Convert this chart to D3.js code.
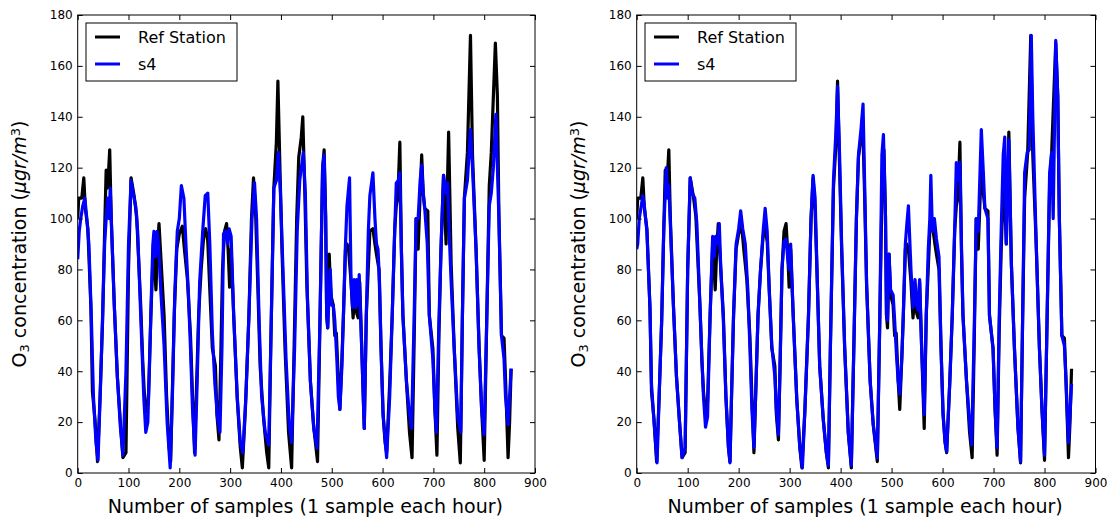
<!DOCTYPE html>
<meta charset="utf-8">
<script src="https://cdn.jsdelivr.net/npm/d3@7"></script>
<style>
body { margin: 0; background: #fff; }
text { font-family: "DejaVu Sans", sans-serif; fill: #000; }
.tick text { font-size: 12px; }
.tick line { stroke: #000; }
path.series { fill: none; stroke-width: 3.2px; stroke-linejoin: round; }
</style>
<body>
<script>

// tick labels
var xTicks = [0, 100, 200, 300, 400, 500, 600, 700, 800, 900];
var yTicks = [0, 20, 40, 60, 80, 100, 120, 140, 160, 180];
var seriesNames = ["Ref Station", "s4"];

// [sample, O3]
var refStation = [
  [0,100],[2,108],[8,108],[12,116],[15,104],[20,96],[26,65],[29,32],[34,21],[39,4.5],
  [44,30],[49,60],[53,95],[56,119],[59,112],[63,127],[66,100],[72,66],[78,38],[84,20],[89,6],[95,8],
  [100,80],[105,116],[111,109],[116,101],[124,66],[128,44],[131,32],[135,24],[139,28],
  [144,62],[149,90],[154,72],[157,88],[160,98],[165,80],[170,62],[175,30],[180,10],[183,4.5],
  [186,30],[190,62],[195,88],[200,94],[206,97],[210,88],[216,76],[222,54],[226,30],[230,8],
  [234,35],[238,62],[243,80],[248,93],[252,96],[256,91],[260,72],[265,49],[271,42],[274,23],[278,13],
  [281,40],[285,80],[289,95],[293,98],[296,88],[299,73],[302,88],[307,62],[314,29],[320,10],[324,2],
  [330,25],[337,62],[342,100],[346,116],[350,103],[355,70],[359,42],[366,21],[372,8],[376,2],
  [380,50],[386,112],[391,130],[394,154],[398,120],[402,88],[408,49],[415,16],[421,2],
  [426,50],[431,100],[435,124],[440,132],[443,140],[447,110],[451,74],[458,36],[464,19],[472,4.5],
  [477,62],[482,120],[485,127],[488,101],[490,62],[492,57],[495,86],[498,70],[503,66],[506,54],[509,55],[513,36],[516,25],
  [520,45],[523,62],[527,88],[530,90],[533,88],[538,75],[542,61],[546,72],[549,63],[552,61],[555,75],[559,49],[564,17.5],
  [568,62],[575,95],[581,96],[585,90],[588,86],[593,80],[597,49],[601,23],[605,12],[608,8],
  [614,35],[619,62],[624,96],[627,105],[630,108],[634,130],[637,88],[640,62],[647,36],[653,16],[658,6],
  [662,50],[666,100],[670,88],[674,110],[677,125],[680,110],[683,104],[689,103],[692,62],[699,49],[703,25],[707,7],
  [711,55],[715,88],[720,117],[725,90],[730,134],[735,82],[741,49],[748,17.5],[753,4],
  [757,60],[761,108],[767,126],[773,172],[777,125],[784,88],[790,49],[795,25],[800,5],
  [805,60],[810,113],[814,126],[822,169],[826,148],[829,101],[834,54],[839,53],[842,37],[847,6],[850,20],[853,41]
];

var s4Raw = [
  [0,84],[3,95],[6,100],[10,105],[14,108],[18,100],[22,90],[27,60],[31,30],[36,12],[40,5],
  [45,35],[49,62],[53,90],[56,100],[59,108],[62,100],[64,112],[67,95],[72,66],[78,38],[84,18],[89,7],
  [95,40],[100,90],[105,115],[109,110],[114,105],[118,95],[124,62],[130,30],[134,16],[138,20],[141,40],
  [145,70],[148,90],[150,95],[153,85],[156,95],[159,90],[164,70],[170,50],[176,20],[182,2],
  [187,35],[191,70],[196,95],[200,100],[204,113],[209,108],[213,90],[218,70],[222,49],[226,25],[231,7],
  [235,35],[240,75],[246,95],[251,109],[256,110],[260,90],[265,55],[270,35],[275,22],[280,16],
  [284,50],[287,94],[291,95],[295,90],[298,96],[302,93],[307,62],[314,30],[320,12],[325,8],
  [331,30],[337,62],[343,100],[348,114],[352,100],[357,60],[362,30],[369,16],[376,11],
  [381,60],[386,112],[391,115],[395,126],[399,110],[404,80],[410,45],[416,20],[421,12],
  [427,50],[432,95],[437,115],[444,126],[448,110],[452,70],[458,36],[465,17],[471,9.7],
  [477,62],[482,120],[485,125],[488,100],[490,62],[492,57],[497,80],[500,66],[503,66],[506,60],[510,45],[513,30],[516,25],
  [520,42],[523,62],[527,90],[530,105],[535,116],[538,75],[541,65],[544,76],[547,65],[549,76],[552,66],[554,78],[559,49],[564,17.5],
  [568,62],[572,95],[575,109],[579,115],[581,118],[585,100],[588,90],[591,88],[594,75],[597,49],[601,23],[608,6],
  [614,30],[619,62],[624,96],[627,114],[631,115],[634,118],[637,88],[640,62],[647,36],[652,25],[657,17.5],
  [662,60],[666,100],[670,100],[674,115],[677,121],[680,110],[683,104],[688,90],[692,62],[699,45],[703,25],[706,16],
  [711,60],[715,88],[720,117],[725,110],[728,114],[731,95],[735,75],[741,49],[748,22],[754,16],
  [757,60],[761,108],[767,115],[773,135],[777,120],[784,88],[790,49],[795,25],[800,15],
  [805,60],[810,105],[814,110],[818,120],[823,141],[826,120],[829,100],[834,54],[839,45],[842,30],[847,19],[853,41]
];

var s4Calibrated = [
  [0,88],[2,90],[5,100],[9,105],[12,109],[15,105],[20,95],[26,65],[29,35],[34,20],[40,4],
  [44,30],[49,60],[53,95],[56,110],[58,120],[61,108],[63,113],[66,98],[72,66],[78,38],[84,20],[89,6],[95,10],
  [100,80],[105,116],[109,110],[114,108],[118,98],[124,66],[128,44],[131,30],[135,18],[139,22],
  [144,62],[149,93],[152,85],[155,93],[158,90],[162,98],[165,80],[170,60],[175,30],[180,10],[183,4],
  [186,30],[190,62],[195,90],[200,96],[204,103],[208,96],[213,90],[218,72],[222,50],[226,25],[230,10],
  [234,35],[238,62],[243,80],[248,95],[252,104],[256,95],[260,72],[265,50],[271,38],[274,25],[278,15],
  [281,40],[285,80],[289,91],[293,92],[296,85],[299,80],[302,90],[307,62],[314,29],[320,10],[325,2],
  [330,25],[337,62],[342,100],[346,117],[350,108],[355,70],[359,42],[366,21],[372,8],[376,3],
  [380,50],[386,115],[391,135],[394,152],[398,125],[402,90],[408,49],[415,16],[421,3],
  [426,50],[431,100],[435,125],[440,135],[444,145],[447,115],[451,74],[458,36],[464,19],[472,6],
  [477,62],[481,125],[484,133],[488,101],[490,62],[492,60],[495,86],[498,72],[503,70],[506,60],[510,45],[513,36],[516,31],
  [520,45],[523,62],[527,90],[530,98],[533,105],[538,80],[542,65],[546,76],[549,66],[552,64],[555,76],[559,49],[564,23],
  [568,62],[572,88],[575,100],[577,117],[580,95],[584,100],[588,92],[593,85],[597,49],[601,23],[605,12],[608,8.4],
  [614,35],[619,62],[624,98],[627,122],[630,115],[634,122],[637,90],[640,62],[647,36],[653,20],[657,11],
  [662,55],[666,100],[670,95],[673,115],[676,135],[680,118],[683,104],[689,100],[692,62],[699,49],[703,25],[707,10],
  [711,60],[715,95],[719,125],[722,132],[725,90],[730,131],[735,82],[741,49],[748,17.5],[753,4.5],
  [757,60],[761,118],[766,126],[770,127],[774,172],[777,140],[784,88],[790,49],[795,25],[800,7],
  [805,60],[810,118],[814,126],[817,100],[822,170],[826,148],[829,101],[834,54],[839,50],[842,37],[847,12],[853,35]
];

var width = 1112,
    height = 521;

var plotTop = 15,
    plotBottom = 473;

var panels = [
  {id: "a", left: 77.7, right: 535, blue: s4Raw},
  {id: "b", left: 636.7, right: 1095.5, blue: s4Calibrated}
];

var svg = d3.select("body").append("svg")
    .attr("width", width)
    .attr("height", height);

panels.forEach(function(p) {

  var x = d3.scaleLinear().domain([0, 900]).range([p.left, p.right]);
  var y = d3.scaleLinear().domain([0, 180]).range([plotBottom, plotTop]);

  var g = svg.append("g");

  g.append("clipPath").attr("id", "clip-" + p.id)
    .append("rect")
      .attr("x", p.left).attr("y", plotTop)
      .attr("width", p.right - p.left).attr("height", plotBottom - plotTop);

  var line = d3.line()
      .x(function(d) { return x(d[0]); })
      .y(function(d) { return y(d[1]); });

  // black first, blue on top
  g.append("path")
      .attr("class", "series")
      .attr("clip-path", "url(#clip-" + p.id + ")")
      .style("stroke", "#000")
      .attr("d", line(refStation));

  g.append("path")
      .attr("class", "series")
      .attr("clip-path", "url(#clip-" + p.id + ")")
      .style("stroke", "#0000ff")
      .attr("d", line(p.blue));

  // axes, ticks pointing inward
  var bottomAxis = g.append("g")
      .attr("transform", "translate(0," + plotBottom + ")")
      .call(d3.axisBottom(x).tickValues(xTicks).tickSize(-5).tickSizeOuter(0).tickPadding(5));
  var topAxis = g.append("g")
      .attr("transform", "translate(0," + plotTop + ")")
      .call(d3.axisTop(x).tickValues(xTicks).tickSize(-5).tickSizeOuter(0).tickFormat(""));
  var leftAxis = g.append("g")
      .attr("transform", "translate(" + p.left + ",0)")
      .call(d3.axisLeft(y).tickValues(yTicks).tickSize(-5).tickSizeOuter(0).tickPadding(5));
  var rightAxis = g.append("g")
      .attr("transform", "translate(" + p.right + ",0)")
      .call(d3.axisRight(y).tickValues(yTicks).tickSize(-5).tickSizeOuter(0).tickFormat(""));

  [bottomAxis, topAxis, leftAxis, rightAxis].forEach(function(a) {
    a.select(".domain").remove();
    a.selectAll("text").attr("font-family", null).attr("font-size", null).style("fill", "#000");
  });

  g.append("rect")
      .attr("x", p.left).attr("y", plotTop)
      .attr("width", p.right - p.left).attr("height", plotBottom - plotTop)
      .style("fill", "none").style("stroke", "#000").style("stroke-width", 1);

  // legend
  var lg = g.append("g").attr("transform", "translate(" + (p.left + 8.3) + ",23)");
  lg.append("rect")
      .attr("width", 151).attr("height", 58)
      .style("fill", "#fff").style("stroke", "#000").style("stroke-width", 1);
  seriesNames.forEach(function(name, i) {
    lg.append("line")
        .attr("x1", 9).attr("x2", 34)
        .attr("y1", 14 + i * 27).attr("y2", 14 + i * 27)
        .style("stroke", i == 0 ? "#000" : "#0000ff")
        .style("stroke-width", 3);
    lg.append("text")
        .attr("x", 52).attr("y", 20 + i * 27)
        .style("font-size", "16px")
        .text(name);
  });

  // axis labels
  g.append("text")
      .attr("x", (p.left + p.right) / 2 - 1)
      .attr("y", 513)
      .attr("text-anchor", "middle")
      .style("font-size", "19px")
      .text("Number of samples (1 sample each hour)");

  var yl = g.append("text")
      .attr("transform", "translate(" + (p.left - 51.5) + "," + ((plotTop + plotBottom) / 2) + ") rotate(-90)")
      .attr("text-anchor", "middle")
      .style("font-size", "19px");
  yl.append("tspan").text("O");
  yl.append("tspan").attr("baseline-shift", "-25%").style("font-size", "13px").text("3");
  yl.append("tspan").text(" concentration (");
  yl.append("tspan").style("font-style", "italic").text("μgr/m");
  yl.append("tspan").attr("baseline-shift", "45%").style("font-size", "13px").text("3");
  yl.append("tspan").text(")");
});

</script>
</body>
</html>
